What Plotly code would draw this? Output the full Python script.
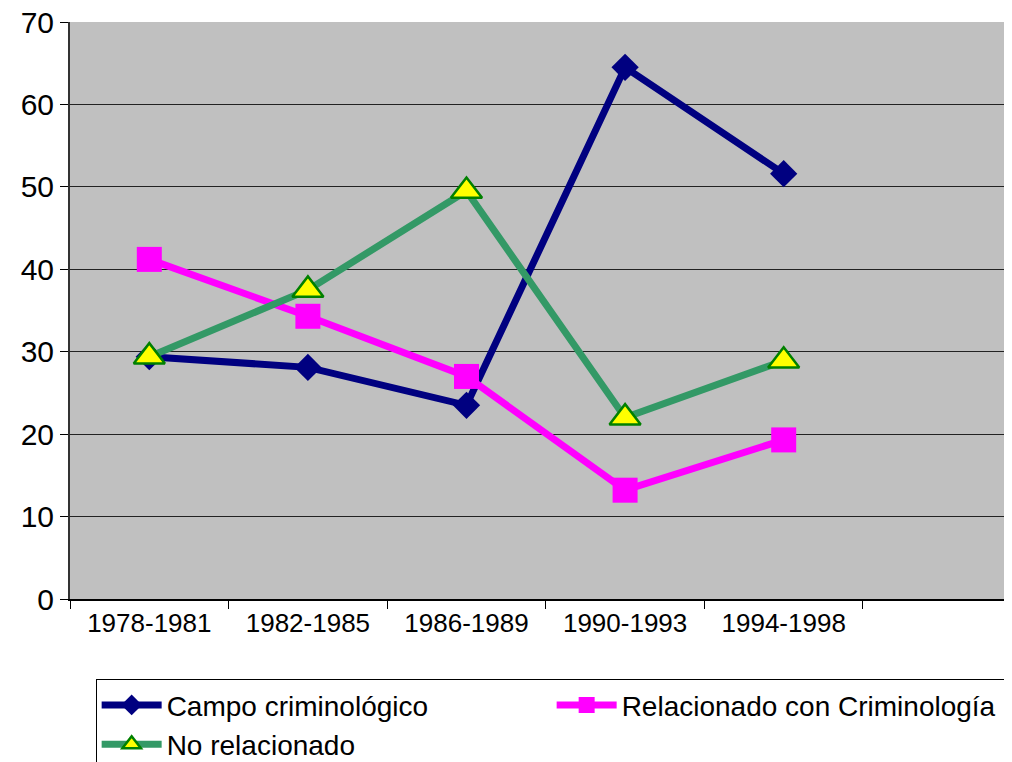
import plotly.graph_objects as go

periods = ["1978-1981", "1982-1985", "1986-1989", "1990-1993", "1994-1998", " "]
campo = [29.4, 28.1, 23.5, 64.5, 51.6]
relacionado = [41.2, 34.3, 27.0, 13.2, 19.3]
no_relacionado = [29.4, 37.5, 49.5, 22.0, 28.9]

fig = go.Figure()
fig.add_trace(go.Scatter(x=periods[:5], y=campo, name="Campo criminológico",
                         mode="lines+markers",
                         line=dict(color="#000080", width=7),
                         marker=dict(symbol="diamond", size=21, color="#000080")))
fig.add_trace(go.Scatter(x=periods[:5], y=relacionado, name="Relacionado con Criminología",
                         mode="lines+markers",
                         line=dict(color="#FF00FF", width=7),
                         marker=dict(symbol="square", size=25, color="#FF00FF")))
fig.add_trace(go.Scatter(x=periods[:5], y=no_relacionado, name="No relacionado",
                         mode="lines+markers",
                         line=dict(color="#339966", width=7),
                         marker=dict(symbol="triangle-up", size=27, color="#FFFF00",
                                     line=dict(color="#008000", width=2.5))))

# page body has an 8px margin, so margins are shifted by 8
fig.update_layout(width=1012, height=762,
                  paper_bgcolor="white",
                  plot_bgcolor="#C0C0C0",
                  font=dict(family="Liberation Sans, Arial, sans-serif", size=20, color="black"),
                  margin=dict(l=62, r=0, t=14, b=171, autoexpand=False),
                  showlegend=True,
                  legend=dict(orientation="h", x=0.027, y=-0.139, xanchor="left", yanchor="top",
                              bordercolor="black", borderwidth=1, bgcolor="white",
                              entrywidth=380, itemwidth=60, font=dict(size=28)))
fig.update_xaxes(type="category", categoryorder="array", categoryarray=periods,
                 range=[-0.5, 5.49], tickson="boundaries", ticks="outside", ticklen=8,
                 tickcolor="black", showgrid=False, showline=True, linecolor="black",
                 linewidth=2, tickfont=dict(size=26), automargin=False)
fig.update_yaxes(range=[0, 70], dtick=10, ticks="outside", ticklen=8, tickcolor="black",
                 showgrid=True, gridcolor="#222222", gridwidth=1, zeroline=False,
                 showline=True, linecolor="#333333", linewidth=2, tickfont=dict(size=30),
                 ticklabeloverflow="allow", automargin=False)
fig.write_html("out.html")
